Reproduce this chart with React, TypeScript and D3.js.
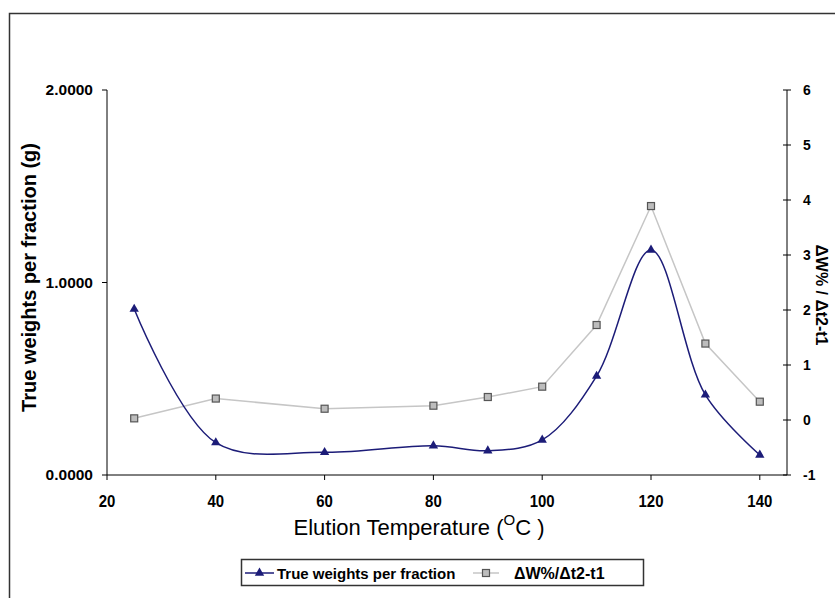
import React from "react";
import * as d3 from "d3";

// temperatures (°C) of each fraction
const temps: number[] = [25, 40, 60, 80, 90, 100, 110, 120, 130, 140];
// true weights per fraction (g), left axis
const weights: number[] = [0.862, 0.168, 0.118, 0.152, 0.126, 0.182, 0.514, 1.169, 0.416, 0.104];
// ΔW% / Δt2-t1, right axis
const deltaW: number[] = [0.03, 0.39, 0.205, 0.26, 0.418, 0.606, 1.727, 3.89, 1.39, 0.333];

const xTicks: number[] = [20, 40, 60, 80, 100, 120, 140];
const leftTicks: number[] = [0, 1, 2];
const rightTicks: number[] = [-1, 0, 1, 2, 3, 4, 5, 6];

const W = 835;
const H = 598;
const plot = { left: 107, right: 787, top: 90, bottom: 475 };
const FONT = "Arial, 'Liberation Sans', sans-serif";

function App() {
  const x = d3.scaleLinear().domain([20, 145]).range([plot.left, plot.right]);
  const yL = d3.scaleLinear().domain([0, 2]).range([plot.bottom, plot.top]);
  const yR = d3.scaleLinear().domain([-1, 6]).range([plot.bottom, plot.top]);

  const blueLine = d3
    .line<number>()
    .x((d, i) => x(temps[i]))
    .y((d) => yL(d))
    .curve(d3.curveCatmullRom.alpha(0.5));

  const greyLine = d3
    .line<number>()
    .x((d, i) => x(temps[i]))
    .y((d) => yR(d));

  const tri = d3.symbol().type(d3.symbolTriangle).size(38)();
  const navy = "#1c1c78";
  const grey = "#c6c6c6";

  return (
    <svg width={W} height={H} style={{ position: "absolute", left: 0, top: 0 }}>
      <rect x={0} y={0} width={W} height={H} fill="#fff" />
      {/* chart frame */}
      <rect x={9.5} y={13.5} width={W + 20} height={H + 20} fill="none" stroke="#333" strokeWidth={1.5} />

      {/* axes */}
      <g fontFamily={FONT} fontWeight="bold" fill="#000">
        <line x1={plot.left} x2={plot.left} y1={plot.top} y2={plot.bottom} stroke="#000" />
        <line x1={plot.right} x2={plot.right} y1={plot.top} y2={plot.bottom} stroke="#000" />
        <line x1={plot.left} x2={plot.right} y1={plot.bottom} y2={plot.bottom} stroke="#000" />
        {xTicks.map((t) => (
          <g key={"x" + t}>
            <line x1={x(t)} x2={x(t)} y1={plot.bottom} y2={plot.bottom + 5} stroke="#000" />
            <text transform={`translate(${x(t)},${plot.bottom + 32}) scale(0.88,1)`} textAnchor="middle" fontSize={17}>
              {t}
            </text>
          </g>
        ))}
        {leftTicks.map((t) => (
          <g key={"l" + t}>
            <line x1={plot.left - 5} x2={plot.left} y1={yL(t)} y2={yL(t)} stroke="#000" />
            <text x={plot.left - 14} y={yL(t) + 5} textAnchor="end" fontSize={15.5}>
              {t.toFixed(4)}
            </text>
          </g>
        ))}
        {rightTicks.map((t) => (
          <g key={"r" + t}>
            <line x1={plot.right - 4} x2={plot.right + 4} y1={yR(t)} y2={yR(t)} stroke="#000" />
            <text transform={`translate(${plot.right + 16},${yR(t) + 5}) scale(0.9,1)`} textAnchor="start" fontSize={15.5}>
              {t}
            </text>
          </g>
        ))}
      </g>

      {/* axis titles */}
      <text
        transform={`translate(36,${(plot.top + plot.bottom) / 2 - 5}) rotate(-90)`}
        textAnchor="middle"
        fontFamily={FONT}
        fontWeight="bold"
        fontSize={20}
      >
        True weights per fraction (g)
      </text>
      <text
        transform={`translate(816,${295}) rotate(90)`}
        textAnchor="middle"
        fontFamily={FONT}
        fontWeight="bold"
        fontSize={16}
      >
        <tspan fontSize={17}>Δ</tspan>
        <tspan fontSize={16}>W% / </tspan>
        <tspan fontSize={17}>Δ</tspan>
        <tspan fontSize={16}>t2-t1</tspan>
      </text>
      <text x={419} y={535} textAnchor="middle" fontFamily={FONT} fontSize={22}>
        Elution Temperature (<tspan dy={-10} fontSize={15}>O</tspan>
        <tspan dy={10}>C )</tspan>
      </text>

      {/* series */}
      <path d={greyLine(deltaW) || ""} fill="none" stroke={grey} strokeWidth={1.5} />
      <path d={blueLine(weights) || ""} fill="none" stroke={navy} strokeWidth={1.5} />
      {deltaW.map((v, i) => (
        <rect key={"s" + i} x={x(temps[i]) - 3.5} y={yR(v) - 3.5} width={7} height={7} fill="#bdbdbd" stroke="#555" strokeWidth={1.2} />
      ))}
      {weights.map((v, i) => (
        <path key={"t" + i} d={tri || ""} transform={`translate(${x(temps[i])},${yL(v)})`} fill={navy} />
      ))}

      {/* legend */}
      <g fontFamily={FONT} fontWeight="bold" fontSize={15}>
        <rect x={241.5} y={559.5} width={402} height={26} fill="#fff" stroke="#333" strokeWidth={1.5} />
        <line x1={245} x2={274} y1={573} y2={573} stroke={navy} strokeWidth={1.5} />
        <path d={tri || ""} transform="translate(259.5,573)" fill={navy} />
        <text x={277} y={578.5}>True weights per fraction</text>
        <line x1={473} x2={499} y1={573} y2={573} stroke={grey} strokeWidth={1.5} />
        <rect x={482.5} y={569.5} width={7} height={7} fill="#bdbdbd" stroke="#555" strokeWidth={1.2} />
        <text x={514} y={578.5} fontSize={16}>
          <tspan>Δ</tspan>
          <tspan>W%/</tspan>
          <tspan>Δ</tspan>
          <tspan>t2-t1</tspan>
        </text>
      </g>
    </svg>
  );
}

export default App;
